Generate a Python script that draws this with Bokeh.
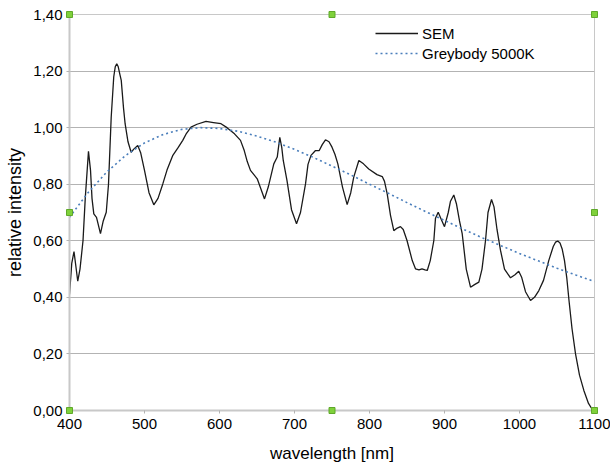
from bokeh.plotting import figure
from bokeh.models import (Range1d, FixedTicker, CustomJSTickFormatter, Legend,
                          LegendItem, ColumnDataSource)
from bokeh.embed import file_html
from bokeh.resources import INLINE

# Measured spectrum of the SEM source (relative intensity vs wavelength in nm)
sem_wavelength = [
    400, 403, 406, 408.5, 411, 414, 418, 421, 425.3, 428, 430, 432.4, 436,
    441.3, 445, 449, 452, 455.6, 459, 461, 463, 465, 467, 469, 472, 474.2,
    478, 482.2, 486, 491, 495, 500, 506, 512.4, 518, 524.4, 530, 537.8, 545,
    551, 556, 562, 570, 582, 592, 602, 610, 620, 628, 633, 637, 641.3, 650.3,
    655, 660, 665, 672.4, 677, 680.4, 683, 685, 690, 696, 702.7, 708, 714.7,
    718, 722, 728, 733, 737, 741.3, 746, 750, 754, 757.8, 764, 770.2, 775,
    779, 785.8, 792, 799, 810, 817, 820, 823.6, 828, 832.4, 837, 841.3, 845,
    850, 857, 861.3, 866, 870, 874, 877, 881, 885.8, 888, 891.6, 895, 900,
    905, 908, 912.4, 916, 920, 923.6, 929, 934.7, 940, 945.8, 950, 954.7,
    958, 962.7, 966, 970, 974.7, 980, 988, 994, 999, 1003, 1008, 1014.7,
    1020, 1025.8, 1032, 1039, 1045, 1048, 1051, 1054, 1057, 1060, 1063,
    1066, 1070, 1074.7, 1080, 1085.8, 1092, 1096, 1099, 1100,
]
sem_intensity = [
    0.41, 0.52, 0.562, 0.51, 0.457, 0.50, 0.60, 0.75, 0.916, 0.85, 0.75,
    0.695, 0.683, 0.625, 0.67, 0.701, 0.80, 1.037, 1.18, 1.215, 1.226,
    1.215, 1.19, 1.167, 1.07, 1.013, 0.95, 0.913, 0.925, 0.937, 0.91, 0.849,
    0.77, 0.727, 0.75, 0.801, 0.85, 0.902, 0.93, 0.955, 0.98, 1.002, 1.012,
    1.022, 1.018, 1.014, 1.0, 0.978, 0.955, 0.919, 0.88, 0.849, 0.819,
    0.785, 0.748, 0.79, 0.872, 0.896, 0.966, 0.93, 0.884, 0.813, 0.71,
    0.660, 0.70, 0.801, 0.87, 0.902, 0.919, 0.919, 0.94, 0.957, 0.95, 0.931,
    0.905, 0.872, 0.79, 0.728, 0.77, 0.825, 0.884, 0.872, 0.854, 0.834,
    0.827, 0.81, 0.766, 0.69, 0.636, 0.645, 0.65, 0.64, 0.601, 0.53, 0.501,
    0.497, 0.501, 0.497, 0.495, 0.53, 0.601, 0.68, 0.701, 0.68, 0.65, 0.70,
    0.74, 0.762, 0.73, 0.67, 0.625, 0.50, 0.436, 0.445, 0.454, 0.50, 0.601,
    0.70, 0.746, 0.72, 0.64, 0.566, 0.50, 0.469, 0.48, 0.492, 0.47, 0.42,
    0.389, 0.40, 0.424, 0.46, 0.53, 0.58, 0.595, 0.599, 0.592, 0.57, 0.53,
    0.47, 0.389, 0.29, 0.2, 0.125, 0.071, 0.025, 0.008, 0.002, 0.0,
]

# Greybody reference curve at 5000 K, normalised to its maximum
grey_wavelength = [
    400, 425, 450, 475, 500, 525, 550, 575, 600, 625, 650, 675, 700, 725,
    750, 775, 800, 825, 850, 875, 900, 925, 950, 975, 1000, 1025, 1050,
    1075, 1100,
]
grey_intensity = [
    0.683, 0.771, 0.844, 0.902, 0.946, 0.976, 0.994, 1.000, 0.997, 0.987,
    0.970, 0.949, 0.923, 0.895, 0.864, 0.833, 0.800, 0.768, 0.735, 0.703,
    0.672, 0.641, 0.611, 0.583, 0.555, 0.529, 0.503, 0.479, 0.456,
]

x_ticks = [400, 500, 600, 700, 800, 900, 1000, 1100]
y_ticks = [0.0, 0.2, 0.4, 0.6, 0.8, 1.0, 1.2, 1.4]

FONT = "Liberation Sans"
GRID = "#b3b3b3"

p = figure(width=610, height=467, output_backend="svg", toolbar_location=None,
           x_range=Range1d(x_ticks[0], x_ticks[-1]),
           y_range=Range1d(y_ticks[0], y_ticks[-1]),
           min_border_left=69, min_border_right=16, min_border_top=14,
           min_border_bottom=57)
p.background_fill_color = "white"
p.border_fill_color = "white"
p.outline_line_color = "#c8c8c8"
p.outline_line_width = 1

# horizontal grid only
p.xgrid.grid_line_color = None
p.ygrid.grid_line_color = GRID
p.ygrid.grid_line_width = 1
p.xaxis.ticker = FixedTicker(ticks=x_ticks)
p.yaxis.ticker = FixedTicker(ticks=y_ticks)
p.yaxis.formatter = CustomJSTickFormatter(
    code="return tick.toFixed(2).replace('.', ',');")

for ax in (p.xaxis[0], p.yaxis[0]):
    ax.axis_line_color = "#c8c8c8"
    ax.axis_line_width = 2
    ax.major_tick_line_color = GRID
    ax.major_tick_in = 0
    ax.major_tick_out = 3
    ax.minor_tick_line_color = None
    ax.major_label_text_font = FONT
    ax.major_label_text_font_size = "15px"
    ax.major_label_text_color = "#000000"
    ax.axis_label_text_font = FONT
    ax.axis_label_text_font_style = "normal"
    ax.axis_label_text_color = "#000000"

p.xaxis.axis_label = "wavelength [nm]"
p.yaxis.axis_label = "relative intensity"
p.xaxis.axis_label_text_font_size = "17px"
p.yaxis.axis_label_text_font_size = "18px"
p.xaxis.major_label_standoff = 5
p.yaxis.major_label_standoff = 4
p.xaxis.axis_label_standoff = 12
p.yaxis.axis_label_standoff = 5

sem = p.line(sem_wavelength, sem_intensity, line_color="#1a1a1a",
             line_width=1.3)
grey = p.line(grey_wavelength, grey_intensity, line_color="#4a7ebb",
              line_width=1.6, line_dash="2 3")

# selection handles at the corners and mid-edges of the plot area
x0, x1 = p.x_range.start, p.x_range.end
y0, y1 = p.y_range.start, p.y_range.end
xm, ym = (x0 + x1) / 2, (y0 + y1) / 2
handles = ColumnDataSource(dict(
    x=[x0, xm, x1, x0, x1, x0, xm, x1],
    y=[y1, y1, y1, ym, ym, y0, y0, y0],
))
p.scatter("x", "y", source=handles, marker="square", size=6,
          fill_color="#7fd13b", line_color="#5fa82a", line_width=1,
          level="overlay")

legend = Legend(items=[LegendItem(label="SEM", renderers=[sem]),
                       LegendItem(label="Greybody 5000K", renderers=[grey])],
                location=(306, 347))
legend.padding = 0
legend.margin = 0
legend.spacing = 0
legend.border_line_color = None
legend.background_fill_alpha = 0
legend.glyph_width = 43
legend.glyph_height = 20
legend.label_height = 20
legend.label_standoff = 4
legend.label_text_font = FONT
legend.label_text_font_size = "15px"
legend.label_text_color = "#000000"
legend.label_text_baseline = "middle"
p.add_layout(legend)

open("out.html", "w").write(file_html(p, INLINE))
